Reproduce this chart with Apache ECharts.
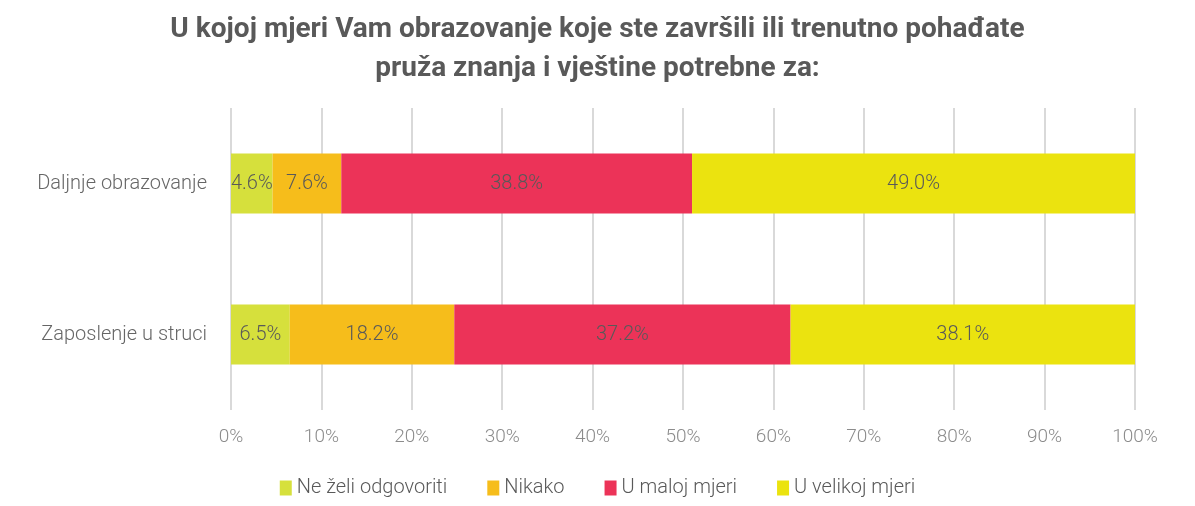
<!DOCTYPE html>
<html><head><meta charset="utf-8">
<script src="https://cdn.jsdelivr.net/npm/echarts@6/dist/echarts.min.js"></script>
<style>html,body{margin:0;padding:0;background:#fff}#c{width:1195px;height:506px}</style>
</head><body><div id="c"></div>
<script>
const categories = ['Daljnje obrazovanje', 'Zaposlenje u struci'];
const seriesNames = ['Ne želi odgovoriti', 'Nikako', 'U maloj mjeri', 'U velikoj mjeri'];
const neZeli = [4.6, 6.5];
const nikako = [7.6, 18.2];
const uMaloj = [38.8, 37.2];
const uVelikoj = [49.0, 38.1];
const colors = ['#d6e03c', '#f6bd1b', '#ec3358', '#ebe30f'];
const FONT = '"Roboto", sans-serif';

const values = [neZeli, nikako, uMaloj, uVelikoj];
const chart = echarts.init(document.getElementById('c'));
chart.setOption({
  animation: false,
  textStyle: {fontFamily: FONT},
  title: {
    text: 'U kojoj mjeri Vam obrazovanje koje ste završili ili trenutno pohađate\npruža znanja i vještine potrebne za:',
    left: 'center', top: 5,
    textStyle: {fontFamily: FONT, fontSize: 28, fontWeight: 'bold', color: '#595959', lineHeight: 39}
  },
  legend: {
    bottom: 3, left: 'center',
    itemWidth: 12, itemHeight: 15, itemGap: 40,
    icon: 'rect',
    textStyle: {fontFamily: FONT, fontSize: 20, color: '#595959', fontWeight: 300},
    data: seriesNames
  },
  grid: {left: 231, right: 60, top: 108, bottom: 96, containLabel: false},
  xAxis: {
    type: 'value', min: 0, max: 100, interval: 10,
    axisLabel: {formatter: '{value}%', fontFamily: FONT, fontSize: 19, color: '#8c8c8c', margin: 18, fontWeight: 300},
    axisLine: {show: false}, axisTick: {show: false},
    splitLine: {lineStyle: {color: '#d9d9d9', width: 2}}
  },
  yAxis: {
    type: 'category', inverse: true, data: categories,
    axisLabel: {fontFamily: FONT, fontSize: 20, color: '#666666', margin: 24, fontWeight: 300},
    axisLine: {show: false}, axisTick: {show: false}
  },
  series: seriesNames.map((n, i) => ({
    name: n, type: 'bar', stack: 'total', barWidth: 60,
    itemStyle: {color: colors[i]},
    label: {show: true, position: 'inside', formatter: p => p.value.toFixed(1) + '%',
      fontFamily: FONT, fontSize: 20, color: '#595959', fontWeight: 300},
    data: values[i]
  }))
});
</script></body></html>
